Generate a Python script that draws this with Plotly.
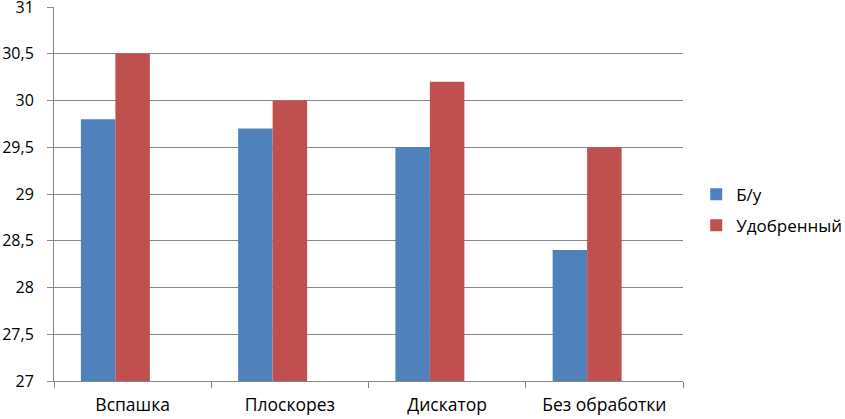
import plotly.graph_objects as go

categories = ["Вспашка", "Плоскорез", "Дискатор", "Без обработки"]
bu_values = [29.8, 29.7, 29.5, 28.4]
fert_values = [30.5, 30.0, 30.2, 29.5]
empty_values = [None, None, None, None]  # third (empty) series slot, as in the source chart
series_names = ["Б/у", "Удобренный"]
y_ticks = [27, 27.5, 28, 28.5, 29, 29.5, 30, 30.5, 31]

fig = go.Figure()
fig.add_trace(go.Bar(x=categories, y=bu_values, base=0, name=series_names[0],
                     marker=dict(color="#4F81BD", line=dict(width=0)), legendgroup="a"))
fig.add_trace(go.Bar(x=categories, y=fert_values, base=0, name=series_names[1],
                     marker=dict(color="#C0504D", line=dict(width=0)), legendgroup="b"))
fig.add_trace(go.Bar(x=categories, y=empty_values, name="", showlegend=False,
                     marker=dict(color="#9BBB59"), hoverinfo="skip"))

font = "Open Sans, DejaVu Sans, sans-serif"
fig.update_layout(
    width=845, height=419,
    margin=dict(l=54, r=162, t=7, b=38, autoexpand=False),
    paper_bgcolor="white", plot_bgcolor="white",
    barmode="group", bargap=0.342, bargroupgap=0,
    separators=", ",
    font=dict(family=font, size=16, color="#000000"),
    showlegend=True,
    legend=dict(x=1.021, y=0.457, xanchor="left", yanchor="middle",
                tracegroupgap=6, font=dict(size=17), itemwidth=30,
                bgcolor="rgba(0,0,0,0)"),
    xaxis=dict(type="category", showgrid=False, showline=True, linecolor="#868686",
               linewidth=1, ticks="outside", tickson="boundaries", ticklen=6,
               tickcolor="#868686", tickfont=dict(size=17.5), automargin=False,
               ticklabelstandoff=8),
    yaxis=dict(range=[27, 31], tickvals=y_ticks, tickformat=".1~f",
               showgrid=True, gridcolor="#868686", gridwidth=1,
               showline=True, linecolor="#868686", linewidth=1,
               ticks="outside", ticklen=6, tickcolor="#868686",
               tickfont=dict(size=16), zeroline=False, automargin=False,
               ticklabeloverflow="allow", ticklabelstandoff=10),
)
fig.write_html("out.html", config={"displayModeBar": False},
               post_script="document.body.style.margin='0';document.body.style.overflow='hidden';")
